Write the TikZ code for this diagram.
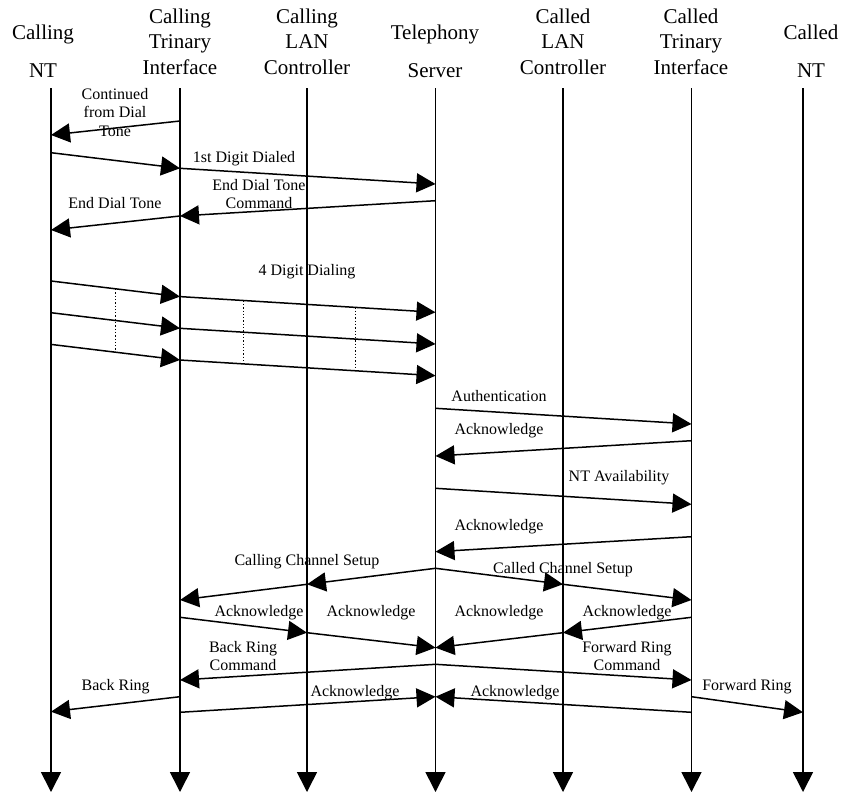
\documentclass[tikz,border=0pt]{standalone}
\usepackage{fontspec}
\setmainfont{Liberation Serif}
\usetikzlibrary{arrows.meta}
\begin{document}
\begin{tikzpicture}[x=1pt,y=-1pt,
  life/.style={line width=1.6pt,-{Triangle[length=20pt,width=20pt]}},
  msg/.style={line width=1.5pt,-{Triangle[length=19pt,width=19pt]}},
  dotsep/.style={line width=1.3pt,dotted},
  hdr/.style={font=\fontsize{21}{25.7}\selectfont,align=center,anchor=base,inner sep=0pt},
  lbl/.style={font=\fontsize{16}{18.5}\selectfont,align=center,anchor=base,inner sep=0pt}]
\useasboundingbox (0,0) rectangle (843,793);

% lifeline tops
\coordinate (nt)  at (51,88);
\coordinate (ti)  at (180,88);
\coordinate (lc)  at (307,88);
\coordinate (ts)  at (435.5,88);
\coordinate (clc) at (563,88);
\coordinate (cti) at (691.5,88);
\coordinate (cnt) at (803,88);

% headers (base anchor sits on the last line)
\node[hdr] (h-nt)  at (43,77.5)  {Calling\\[12pt]NT};
\node[hdr] (h-ti)  at (180,74.5) {Calling\\Trinary\\Interface};
\node[hdr] (h-lc)  at (307,74.5) {Calling\\LAN\\Controller};
\node[hdr] (h-ts)  at (435,77.5) {Telephony\\[12pt]Server};
\node[hdr] (h-clc) at (563,74.5) {Called\\LAN\\Controller};
\node[hdr] (h-cti) at (691,74.5) {Called\\Trinary\\Interface};
\node[hdr] (h-cnt) at (811,77.5) {Called\\[12pt]NT};

% lifelines
\foreach \p in {nt,ti,lc,ts,clc,cti,cnt}
  \draw[life] (\p) -- (\p |- 0,792);

% dial tone phase
\draw[msg] (ti |- 0,121) -- (nt |- 0,135);
\draw[msg] (nt |- 0,152.7) -- (ti |- 0,168.3);
\draw[msg] (ti |- 0,168.3) -- (ts |- 0,184);
\draw[msg] (ts |- 0,200.7) -- (ti |- 0,216);
\draw[msg] (ti |- 0,216) -- (nt |- 0,230);

% four digit dialing
\foreach \y in {281,312.7,344.4}{
  \draw[msg] (nt |- 0,\y) -- (ti |- 0,\y+15.6);
  \draw[msg] (ti |- 0,\y+15.6) -- (ts |- 0,\y+31.3);
}
\draw[dotsep] (115.7,289) -- (115.7,352.5);
\draw[dotsep] (243.7,300.6) -- (243.7,364);
\draw[dotsep] (355.7,307.4) -- (355.7,370.8);

% authentication and availability
\draw[msg] (ts |- 0,408.3) -- (cti |- 0,424);
\draw[msg] (cti |- 0,440.7) -- (ts |- 0,456);
\draw[msg] (ts |- 0,488.3) -- (cti |- 0,504.3);
\draw[msg] (cti |- 0,536.7) -- (ts |- 0,551.7);

% channel setup
\draw[msg] (ts |- 0,568.3) -- (lc |- 0,584.3);
\draw[msg] (lc |- 0,584.3) -- (ti |- 0,600);
\draw[msg] (ts |- 0,568.3) -- (clc |- 0,584.3);
\draw[msg] (clc |- 0,584.3) -- (cti |- 0,600);
\draw[msg] (ti |- 0,617.3) -- (lc |- 0,632.7);
\draw[msg] (lc |- 0,632.7) -- (ts |- 0,647.7);
\draw[msg] (cti |- 0,617.3) -- (clc |- 0,632.7);
\draw[msg] (clc |- 0,632.7) -- (ts |- 0,647.7);

% ringing
\draw[msg] (ts |- 0,664.3) -- (ti |- 0,680);
\draw[msg] (ts |- 0,664.3) -- (cti |- 0,680);
\draw[msg] (ti |- 0,696.7) -- (nt |- 0,711.7);
\draw[msg] (ti |- 0,712.3) -- (ts |- 0,696.7);
\draw[msg] (cti |- 0,696.7) -- (cnt |- 0,712.3);
\draw[msg] (cti |- 0,712.3) -- (ts |- 0,696.7);

% message labels
\node[lbl] (l1)  at (115,136)   {Continued\\from Dial\\Tone};
\node[lbl] (l2)  at (244,162)   {1st Digit Dialed};
\node[lbl] (l3)  at (259,208.5) {End Dial Tone\\Command};
\node[lbl] (l4)  at (115,208)   {End Dial Tone};
\node[lbl] (l5)  at (307,275)   {4 Digit Dialing};
\node[lbl] (l6)  at (499,401.7) {Authentication};
\node[lbl] (l7)  at (499,434)   {Acknowledge};
\node[lbl] (l8)  at (619,481.7) {NT Availability};
\node[lbl] (l9)  at (499,530)   {Acknowledge};
\node[lbl] (l10) at (307,565)   {Calling Channel Setup};
\node[lbl] (l11) at (563,573.3) {Called Channel Setup};
\node[lbl] (l12) at (259,616)   {Acknowledge};
\node[lbl] (l13) at (371,616)   {Acknowledge};
\node[lbl] (l14) at (499,616)   {Acknowledge};
\node[lbl] (l15) at (627,616)   {Acknowledge};
\node[lbl] (l16) at (243,670.7) {Back Ring\\Command};
\node[lbl] (l17) at (627,670.7) {Forward Ring\\Command};
\node[lbl] (l18) at (115.7,690) {Back Ring};
\node[lbl] (l19) at (355,696)   {Acknowledge};
\node[lbl] (l20) at (747,690)   {Forward Ring};
\node[lbl] (l21) at (515,696)   {Acknowledge};
\end{tikzpicture}
\end{document}
